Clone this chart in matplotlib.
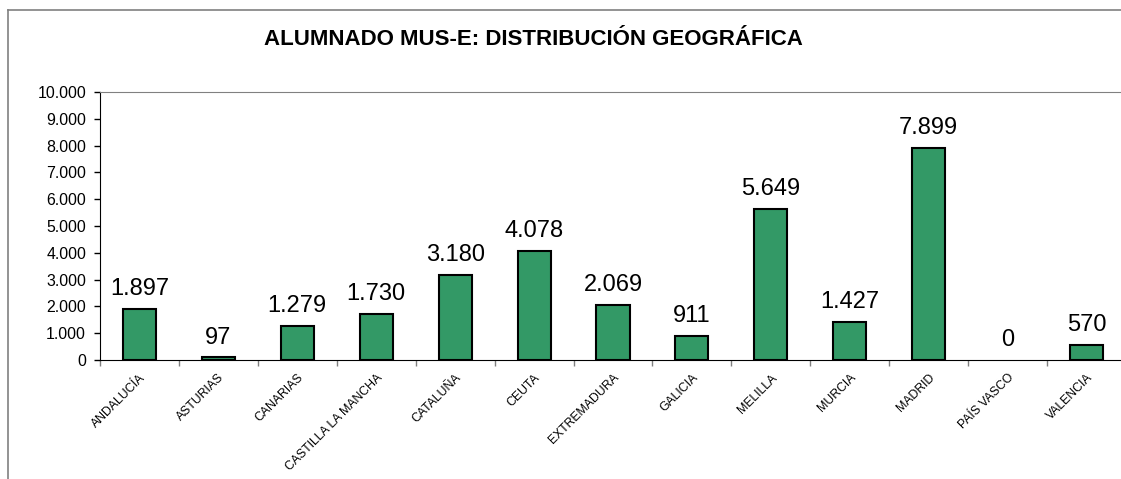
import matplotlib.pyplot as plt
from matplotlib.lines import Line2D
from matplotlib.ticker import FuncFormatter, MultipleLocator

plt.rcParams['font.family'] = ['Liberation Sans', 'DejaVu Sans']

regions = ["ANDALUCÍA", "ASTURIAS", "CANARIAS", "CASTILLA LA MANCHA", "CATALUÑA",
           "CEUTA", "EXTREMADURA", "GALICIA", "MELILLA", "MURCIA", "MADRID",
           "PAÍS VASCO", "VALENCIA"]
students = [1897, 97, 1279, 1730, 3180, 4078, 2069, 911, 5649, 1427, 7899, 0, 570]


def es_thousands(v, pos=None):
    return f"{int(round(v)):,}".replace(",", ".")


fig = plt.figure(figsize=(11.21, 4.79), dpi=100)
ax = fig.add_axes([100 / 1121, 1 - 360 / 479, 1026 / 1121, 268 / 479])

x = range(len(regions))
# a zero-height bar shows no outline in the original
edge_widths = [1.5 if v > 0 else 0 for v in students]
ax.bar(x, students, width=0.42, color="#339966", edgecolor="black",
       linewidth=edge_widths, zorder=3)

for xi, v in zip(x, students):
    ax.annotate(es_thousands(v), (xi, v), xytext=(0, 10), textcoords="offset points",
                ha="center", va="baseline", fontsize=17)

ax.set_xlim(-0.5, len(regions) - 0.5)
ax.set_ylim(0, 10000)
ax.yaxis.set_major_locator(MultipleLocator(1000))
ax.yaxis.set_major_formatter(FuncFormatter(es_thousands))
ax.tick_params(axis="y", labelsize=11.4, length=4, width=1, pad=6)

ax.set_xticks(list(x))
ax.set_xticklabels(regions, rotation=45, ha="right", rotation_mode="anchor", fontsize=8.8)
ax.tick_params(axis="x", which="major", length=0, pad=8.5)
ax.set_xticks([i - 0.5 for i in range(len(regions) + 1)], minor=True)
ax.tick_params(axis="x", which="minor", length=4, width=1, color="#808080")

ax.spines["left"].set_color("black")
ax.spines["bottom"].set_color("black")
ax.spines["top"].set_color("#808080")
ax.spines["right"].set_color("#808080")

fig.text(0.476, 0.918, "ALUMNADO MUS-E: DISTRIBUCIÓN GEOGRÁFICA", ha="center", va="center",
         fontsize=16, fontweight="bold")

# outer chart border (left and top edges are visible)
bx, by = 7.5 / 1121, 1 - 9.5 / 479
fig.lines.append(Line2D([bx, bx], [0, by], transform=fig.transFigure,
                        color="#808080", linewidth=1.2))
fig.lines.append(Line2D([bx, 1], [by, by], transform=fig.transFigure,
                        color="#808080", linewidth=1.2))

fig.savefig("out.png", dpi=100)
